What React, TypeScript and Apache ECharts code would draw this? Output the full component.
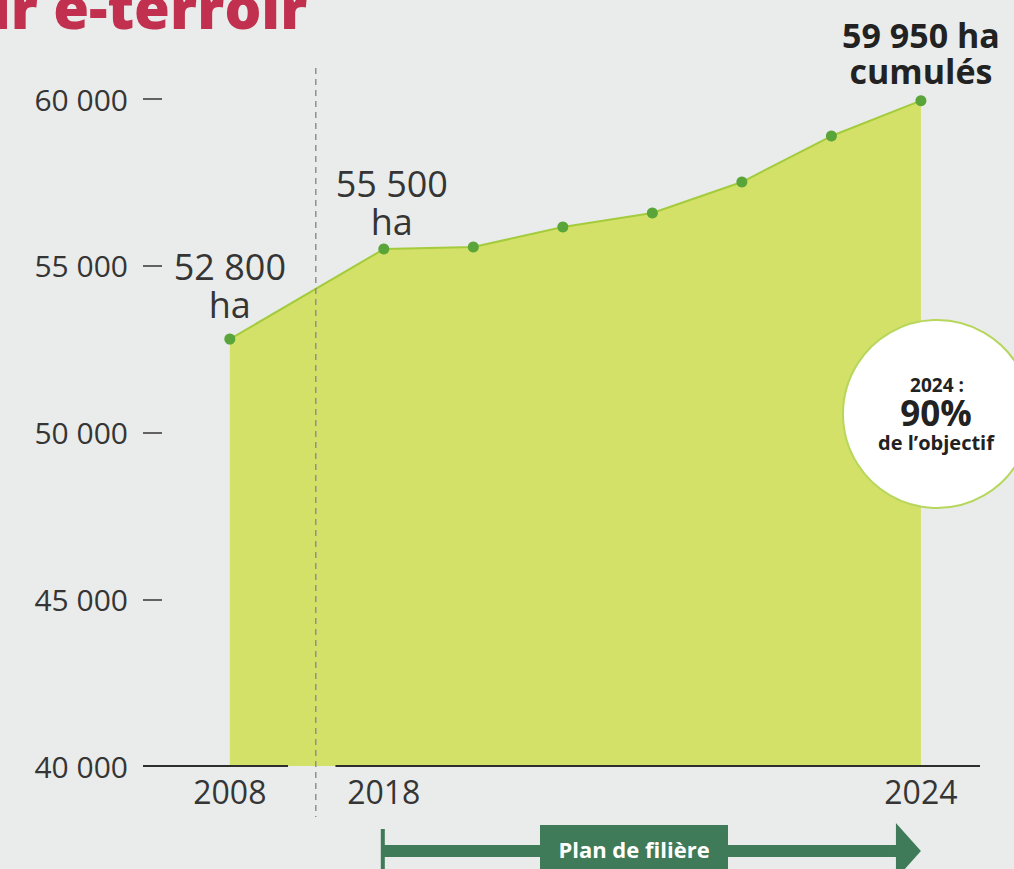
import React, { useEffect, useRef } from 'react';
import * as echarts from 'echarts';

// ---- data ----
const years = [2008, 2018, 2019, 2020, 2021, 2022, 2023, 2024];
const hectares = [52800, 55500, 55560, 56160, 56580, 57510, 58890, 59950];
const xTickYears = [2008, 2018, 2024];
const yMin = 40000;
const yMax = 60000;
const yStep = 5000;
const titleText = 'ir e-terroir';
const goalYear = '2024 :';
const goalShare = '90%';
const goalCaption = 'de l\u2019objectif';
const planLabel = 'Plan de fili\u00e8re';
const unitShort = 'ha';
const unitCumul = 'cumul\u00e9s';

// ---- broken x axis (2008 -> 2018 compressed) ----
const BREAK_FROM = 2008;
const BREAK_TO = 2018;
const BREAK_SPAN = 1.72;
const axisPos = (y: number) =>
  y >= BREAK_TO ? y : BREAK_TO - ((BREAK_TO - y) / (BREAK_TO - BREAK_FROM)) * BREAK_SPAN;
const posToYear = (p: number) =>
  p >= BREAK_TO - 1e-6 ? p : BREAK_TO - ((BREAK_TO - p) / BREAK_SPAN) * (BREAK_TO - BREAK_FROM);

const X_MIN = axisPos(BREAK_FROM) - 0.97;
const X_MAX = years[years.length - 1] + 0.66;
const GAP_START = axisPos(BREAK_FROM) + 0.65;
const GAP_END = axisPos(BREAK_FROM) + 1.18;
const DASH_POS = axisPos(BREAK_FROM) + 0.96;

const fmt = (v: number) => String(Math.round(v)).replace(/\B(?=(\d{3})+(?!\d))/g, ' ');

const FONT = '"Open Sans", "Noto Sans", sans-serif';
const BG = '#e9ecea';
const TEXT = '#353535';
const AREA = '#d4e168';
const LINE = '#a3cb3c';
const DOT = '#5aa53a';
const DARK_GREEN = '#3f7a59';
const TITLE = '#c1304f';

export default function App() {
  const ref = useRef<HTMLDivElement>(null);

  useEffect(() => {
    if (!ref.current) return;
    const chart = echarts.init(ref.current, undefined, { renderer: 'svg' });

    const lightLabel = {
      show: true,
      position: 'top',
      fontFamily: FONT,
      fontSize: 36,
      lineHeight: 38,
      color: TEXT,
      align: 'center',
    };

    const data = years.map((yr, i) => {
      const item: any = { value: [axisPos(yr), hectares[i]] };
      if (yr === 2008) {
        item.label = { ...lightLabel, distance: 10, formatter: `${fmt(hectares[i])}\n${unitShort}` };
      } else if (yr === 2018) {
        item.label = { ...lightLabel, distance: 3, offset: [8, 0], formatter: `${fmt(hectares[i])}\n${unitShort}` };
      } else if (yr === 2024) {
        item.label = {
          show: true,
          position: 'top',
          distance: 6,
          fontFamily: FONT,
          fontSize: 34,
          fontWeight: 'bold',
          lineHeight: 36,
          color: '#222222',
          align: 'center',
          formatter: `${fmt(hectares[i])} ${unitShort}\n${unitCumul}`,
        };
      }
      return item;
    });

    chart.setOption({
      animation: false,
      backgroundColor: BG,
      grid: { left: 143, right: 34, top: 99, bottom: 103 },
      xAxis: {
        type: 'value',
        min: X_MIN,
        max: X_MAX,
        axisLine: { show: false },
        axisTick: { show: false },
        splitLine: { show: false },
        axisLabel: {
          customValues: xTickYears.map(axisPos),
          formatter: (v: number) => String(Math.round(posToYear(v))),
          fontFamily: FONT,
          fontSize: 32,
          color: TEXT,
          margin: 9,
        },
      },
      yAxis: {
        type: 'value',
        min: yMin,
        max: yMax,
        interval: yStep,
        axisLine: { show: false },
        splitLine: { show: false },
        axisTick: { show: true, inside: true, length: 19, lineStyle: { color: TEXT, width: 1.5 } },
        axisLabel: {
          formatter: (v: number) => fmt(v),
          fontFamily: FONT,
          fontSize: 30,
          color: TEXT,
          margin: 15,
        },
      },
      series: [
        {
          type: 'line',
          data,
          symbol: 'circle',
          symbolSize: 11,
          itemStyle: { color: DOT },
          lineStyle: { color: LINE, width: 2 },
          areaStyle: { color: AREA, opacity: 1 },
          z: 2,
        },
      ],
    });

    const px = (x: number, y: number) => chart.convertToPixel({ gridIndex: 0 }, [x, y]) as number[];
    const left = px(X_MIN, yMin);
    const right = px(X_MAX, yMin);
    const g0 = px(GAP_START, yMin);
    const g1 = px(GAP_END, yMin);
    const dash = px(DASH_POS, yMin);
    const a0 = px(BREAK_TO, yMin);
    const a1 = px(years[years.length - 1], yMin);
    const arrowY = 851;
    const headW = 25;
    const headH = 28;

    chart.setOption({
      graphic: [
        {
          type: 'text',
          x: -8,
          y: 6,
          z: 10,
          style: {
            text: titleText,
            fill: TITLE,
            font: `800 58px ${FONT}`,
            verticalAlign: 'middle',
          },
        },
        {
          type: 'line',
          z: 10,
          shape: { x1: left[0], y1: left[1], x2: g0[0], y2: g0[1] },
          style: { stroke: '#2e2e2e', lineWidth: 2 },
        },
        {
          type: 'line',
          z: 10,
          shape: { x1: g1[0], y1: g1[1], x2: right[0], y2: right[1] },
          style: { stroke: '#2e2e2e', lineWidth: 2 },
        },
        {
          type: 'line',
          z: 10,
          shape: { x1: dash[0], y1: 68, x2: dash[0], y2: 817 },
          style: { stroke: '#8f9190', lineWidth: 1.5, lineDash: [6, 5] },
        },
        {
          type: 'circle',
          z: 10,
          shape: { cx: 937, cy: 414, r: 94 },
          style: { fill: '#ffffff', stroke: '#b7d65c', lineWidth: 2 },
        },
        {
          type: 'text',
          z: 11,
          x: 937,
          y: 385,
          style: { text: goalYear, font: `bold 19px ${FONT}`, fill: '#222', align: 'center', verticalAlign: 'middle' },
        },
        {
          type: 'text',
          z: 11,
          x: 936,
          y: 412,
          style: { text: goalShare, font: `bold 35px ${FONT}`, fill: '#222', align: 'center', verticalAlign: 'middle' },
        },
        {
          type: 'text',
          z: 11,
          x: 936,
          y: 442,
          style: { text: goalCaption, font: `bold 20px ${FONT}`, fill: '#222', align: 'center', verticalAlign: 'middle' },
        },
        // arrow "Plan de filière"
        {
          type: 'rect',
          z: 10,
          shape: { x: a0[0] - 3, y: 829, width: 4, height: 50 },
          style: { fill: DARK_GREEN },
        },
        {
          type: 'rect',
          z: 10,
          shape: { x: a0[0] - 1, y: arrowY - 6, width: a1[0] - headW - a0[0] + 2, height: 12 },
          style: { fill: DARK_GREEN },
        },
        {
          type: 'polygon',
          z: 10,
          shape: {
            points: [
              [a1[0] - headW, arrowY - headH],
              [a1[0], arrowY],
              [a1[0] - headW, arrowY + headH],
            ],
          },
          style: { fill: DARK_GREEN },
        },
        {
          type: 'rect',
          z: 11,
          shape: { x: 540, y: 825, width: 188, height: 60 },
          style: { fill: DARK_GREEN },
        },
        {
          type: 'text',
          z: 12,
          x: 634,
          y: 849,
          style: { text: planLabel, font: `bold 22px ${FONT}`, fill: '#ffffff', align: 'center', verticalAlign: 'middle' },
        },
      ],
    });

    return () => chart.dispose();
  }, []);

  return (
    <div
      ref={ref}
      style={{ position: 'fixed', left: 0, top: 0, width: 1014, height: 869, background: BG }}
    />
  );
}
